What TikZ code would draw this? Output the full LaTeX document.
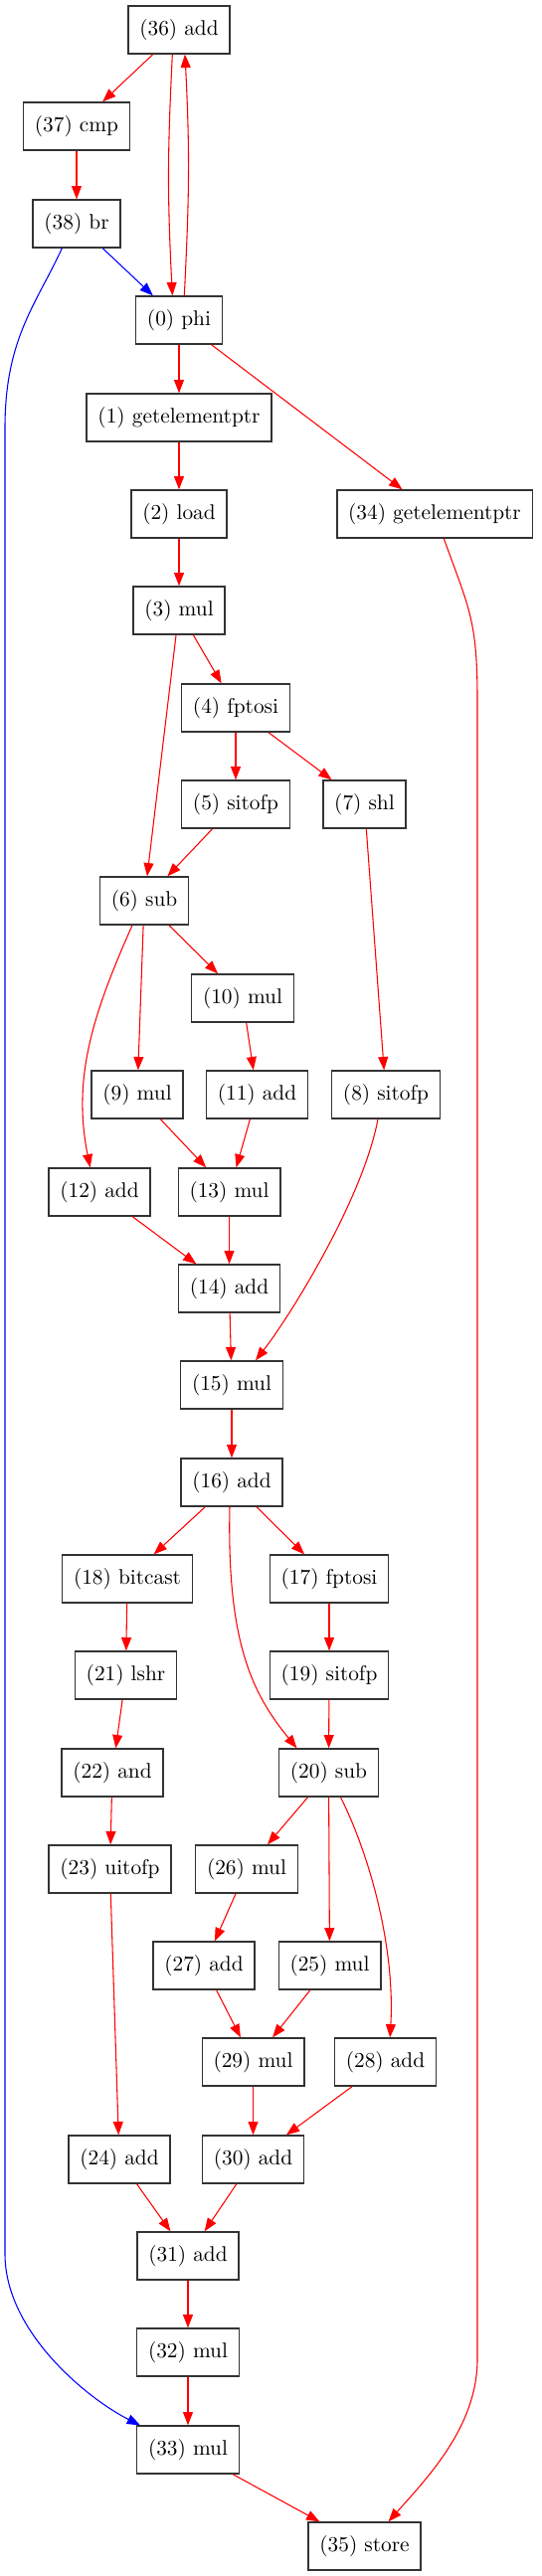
\documentclass[tikz,border=0pt]{standalone}
\usepackage{fontspec}
\newfontfamily\opfont{lmroman10-regular}[Extension=.otf]
\usetikzlibrary{arrows.meta}
\begin{document}
\begin{tikzpicture}[x=0.75pt, y=-0.75pt, >={Triangle[length=10pt, width=7.5pt]},
        op/.style={draw=black!80, line width=1pt, minimum height=36pt, inner xsep=8.5pt, inner ysep=0pt, font=\opfont\fontsize{16}{19}\selectfont},
        dep/.style={->, red, line width=0.8pt},
        ctl/.style={->, blue, line width=0.8pt}]
    \useasboundingbox (0,0) rectangle (544,2591);

    \foreach \n/\x/\y/\lbl in {36/180/30/add, 37/77/127/cmp, 38/77/225/br, 0/180/322/phi,
            1/180/420/getelementptr, 2/180/517/load, 34/437/517/getelementptr, 3/180/614/mul,
            4/237/712/fptosi, 5/237/809/sitofp, 7/366.5/809/shl, 6/145/906/sub, 10/244/1004/mul,
            9/138/1101/mul, 11/258.5/1101/add, 8/388/1101/sitofp, 12/100/1199/add, 13/230.5/1199/mul,
            14/230.5/1296/add, 15/233/1393/mul, 16/233/1491/add, 18/128/1588/bitcast, 17/331/1588/fptosi,
            21/126.5/1685/lshr, 19/331/1685/sitofp, 22/113/1783/and, 20/330.5/1783/sub,
            23/110.5/1880/uitofp, 26/248/1880/mul, 27/205/1977/add, 25/331.5/1977/mul,
            29/254.5/2074/mul, 28/387.5/2074/add, 24/120/2172/add, 30/254.5/2172/add,
            31/189/2269/add, 32/189/2366/mul, 33/189/2464/mul, 35/366.5/2561/store} {
            \node[op] (n\n) at (\x,\y) {(\n) \lbl};
        }

    \foreach \a/\b in {36/37, 37/38, 0/1, 0/34, 1/2, 2/3, 3/4, 3/6, 4/5, 4/7, 5/6, 7/8, 6/10, 6/9,
            10/11, 9/13, 11/13, 12/14, 13/14, 14/15, 15/16, 16/18, 16/17, 18/21, 17/19, 21/22, 19/20,
            22/23, 20/26, 20/25, 23/24, 26/27, 27/29, 25/29, 29/30, 28/30, 24/31, 30/31, 31/32, 32/33, 33/35} {
            \draw[dep] (n\a) -- (n\b);
        }

    \draw[dep] ([xshift=-5pt]n36.south) .. controls +(-5,100) and +(-5,-100) .. ([xshift=-5pt]n0.north);
    \draw[dep] ([xshift=4pt]n0.north) .. controls +(5,-100) and +(5,100) .. ([xshift=4.5pt]n36.south);
    \draw[dep] ([xshift=-9pt]n6.south) .. controls +(-40,90) and +(-18,-90) .. ([xshift=-7pt]n12.north);
    \draw[dep] ([xshift=-6pt]n8.south) .. controls +(-15,80) and +(35,-45) .. ([xshift=18pt]n15.north);
    \draw[dep] ([xshift=-1.5pt]n16.south) .. controls +(-3,136) and +(-45,-55) .. ([xshift=-24pt]n20.north);
    \draw[dep] ([xshift=9pt]n20.south) .. controls +(30,60) and +(5,-90) .. ([xshift=3.5pt]n28.north);
    \draw[dep] ([xshift=7pt]n34.south) .. controls +(25,70) and +(0,-80) .. (480,703) -- (480,2373)
        .. controls +(0,67) and +(40,-45) .. ([xshift=18pt]n35.north);

    \draw[ctl] (n38) -- (n0);
    \draw[ctl] ([xshift=-11pt]n38.south) .. controls +(-25,55) and +(0,-90) .. (5,430) -- (5,2267)
        .. controls +(0,80) and +(-50,-25) .. ([xshift=3pt]n33.north west);
\end{tikzpicture}
\end{document}
